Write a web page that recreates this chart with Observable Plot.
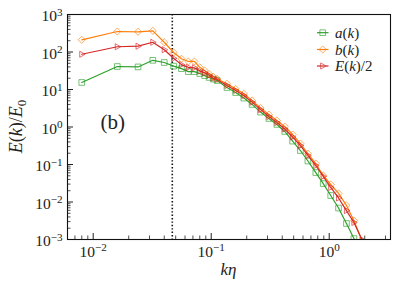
<!DOCTYPE html>
<html><head><meta charset="utf-8">
<script src="https://cdn.jsdelivr.net/npm/d3@7"></script>
<script src="https://cdn.jsdelivr.net/npm/@observablehq/plot@0.6"></script>
<style>html,body{margin:0;padding:0;background:#fff}svg{display:block}</style>
</head><body><div id="chart"></div>
<script>
// ---- data ----
const kEta = [0.008,0.016,0.024,0.032,0.040,0.048,0.056,0.064,0.072,0.080,0.088,0.096,0.104,0.112,
  0.136,0.161,0.189,0.222,0.262,0.308,0.36,0.42,0.49,0.57,0.66,0.77,0.89,1.03,1.2,1.4,1.62,1.9];
const aK = [15.4,41,40,60,52.5,42,36,30,30,26.7,23.5,21,19,17.4,
  11.3,8.3,5.9,4.0,2.5,1.69,1.17,0.76,0.42,0.236,0.124,0.061,0.031,0.0149,0.0069,0.00267,0.00106,0.0004];
const bK = [211,352,346,367,182,97,66,56,56,39,32,26,22,19.3,
  14.2,10.4,7.7,5.1,3.2,2.15,1.49,1.03,0.63,0.363,0.196,0.106,0.051,0.0293,0.0169,0.0081,0.0032,0.0009];
const eHalf = [87,138,143,182,115,68,46,39,38,31,28,24,20,18.5,
  12.8,9.4,6.9,4.6,2.9,1.9,1.32,0.885,0.54,0.321,0.174,0.094,0.048,0.0244,0.0128,0.0059,0.00284,0.00098];
const seriesNames = ["a(k)", "b(k)", "E(k)/2"];
const seriesColors = ["#2ca02c", "#ff7f0e", "#d62728"];
const xTicks = [0.01, 0.1, 1];
const yTicks = [1e-3, 1e-2, 1e-1, 1e0, 1e1, 1e2, 1e3];
const kMarker = 0.0468;
const panelLabel = "(b)";

// ---- layout ----
const W = 399, H = 288, mL = 67, mR = 9, mT = 14, mB = 49;
const xDom = [0.006056, 3.307], yDom = [1e-3, 1e3];
const pxDecX = (W - mL - mR) / (Math.log10(xDom[1]) - Math.log10(xDom[0]));
const pxDecY = (H - mT - mB) / (Math.log10(yDom[1]) - Math.log10(yDom[0]));
const xMinor = [], yMinor = [];
for (let d = -3; d <= 0; d++) for (let m = 2; m <= 9; m++) { const v = m * 10 ** d; if (v > xDom[0] && v < xDom[1]) xMinor.push(v); }
for (let d = -3; d <= 2; d++) for (let m = 2; m <= 9; m++) yMinor.push(m * 10 ** d);
const up = len => yDom[0] * 10 ** (len / pxDecY);
const right = len => xDom[0] * 10 ** (len / pxDecX);

const series = [aK, bK, eHalf].map((vals, i) => kEta.map((k, j) => ({k, v: vals[j], s: seriesNames[i]})));

const triRight = {draw(ctx, size) { const a = Math.sqrt(size) * 0.6; ctx.moveTo(a, 0); ctx.lineTo(-a * 0.6, -a * 0.9); ctx.lineTo(-a * 0.6, a * 0.9); ctx.closePath(); }};
const symbols = ["square", "diamond2", triRight];

const marks = [];
series.forEach((rows, i) => {
  marks.push(Plot.line(rows, {x: "k", y: "v", stroke: seriesColors[i], strokeWidth: 1.2, clip: true}));
  marks.push(Plot.dot(rows, {x: "k", y: "v", stroke: seriesColors[i], symbol: symbols[i], r: 3.2, fill: "none", strokeWidth: 1, strokeOpacity: 0.65, clip: true}));
});

const FONT = "'Liberation Serif', serif";
const chart = Plot.plot({
  width: W, height: H, marginLeft: mL, marginRight: mR, marginTop: mT, marginBottom: mB,
  style: {fontFamily: FONT, background: "#fff", color: "#222"},
  x: {type: "log", domain: xDom},
  y: {type: "log", domain: yDom},
  marks: [
    Plot.ruleX([kMarker], {stroke: "#111", strokeWidth: 1.6, strokeDasharray: "1.4,2"}),
    ...marks,
    Plot.ruleX(xTicks, {x: d => d, y1: yDom[0], y2: up(6), stroke: "#222"}),
    Plot.ruleX(xMinor, {x: d => d, y1: yDom[0], y2: up(3.5), stroke: "#222", strokeWidth: 0.8}),
    Plot.ruleY(yTicks, {y: d => d, x1: xDom[0], x2: right(6), stroke: "#222"}),
    Plot.ruleY(yMinor, {y: d => d, x1: xDom[0], x2: right(3.5), stroke: "#222", strokeWidth: 0.8}),
    Plot.frame({stroke: "#111", strokeWidth: 1.1}),
    Plot.axisX({ticks: xTicks, tickSize: 0, tickPadding: 6, label: null, fontSize: 15.5, tickFormat: d => String(Math.round(Math.log10(d)))}),
    Plot.axisY({ticks: yTicks, tickSize: 0, tickPadding: 5, label: null, fontSize: 15.5, tickFormat: d => String(Math.round(Math.log10(d)))}),
    Plot.text([panelLabel], {text: d => d, frameAnchor: "left", dx: 33, dy: -5, textAnchor: "start", fontSize: 21})
  ]
});
document.getElementById("chart").appendChild(chart);

const ns = "http://www.w3.org/2000/svg";
function tspan(parent, txt, attrs = {}) {
  const t = document.createElementNS(ns, "tspan"); t.textContent = txt;
  for (const [k, v] of Object.entries(attrs)) t.setAttribute(k, v);
  parent.appendChild(t); return t;
}
chart.querySelectorAll('g[aria-label="x-axis tick label"] text, g[aria-label="y-axis tick label"] text').forEach(t => {
  const e = t.textContent.replace("-", "\u2212");
  t.textContent = "";
  tspan(t, "10");
  tspan(t, e, {dy: "-0.5em", "font-size": "0.72em"});
});
chart.querySelectorAll('g[aria-label="y-axis tick label"] text').forEach(t => t.setAttribute("y", "0.45em"));

const svg = d3.select(chart);
// legend
const lg = svg.append("g").attr("font-family", FONT).attr("font-size", 15).attr("text-anchor", "start");
const legendText = [
  [["a", true], ["(", false], ["k", true], [")", false]],
  [["b", true], ["(", false], ["k", true], [")", false]],
  [["E", true], ["(", false], ["k", true], [")/2", false]]
];
const legSym = [d3.symbolSquare, d3.symbolDiamond2, triRight];
[32.7, 49.5, 66].forEach((y, i) => {
  lg.append("line").attr("x1", 317).attr("x2", 328.5).attr("y1", y).attr("y2", y).attr("stroke", seriesColors[i]).attr("stroke-width", 1.2);
  lg.append("path").attr("d", d3.symbol(legSym[i], Math.PI * 3.2 * 3.2)()).attr("transform", `translate(322.7,${y})`)
    .attr("fill", "none").attr("stroke", seriesColors[i]).attr("stroke-opacity", 0.65);
  const t = lg.append("text").attr("x", 335).attr("y", y + 5).node();
  legendText[i].forEach(([s, it]) => tspan(t, s, it ? {"font-style": "italic"} : {}));
});
// x label
svg.append("text").attr("x", (mL + W - mR) / 2).attr("y", 275).attr("text-anchor", "middle")
  .attr("font-family", FONT).attr("font-size", 17).attr("font-style", "italic").text("k\u03b7");
// y label
const yl = svg.append("text").attr("transform", `translate(22,${(mT + H - mB) / 2}) rotate(-90)`).attr("text-anchor", "middle")
  .attr("font-family", FONT).attr("font-size", 18).node();
tspan(yl, "E", {"font-style": "italic"}); tspan(yl, "("); tspan(yl, "k", {"font-style": "italic"}); tspan(yl, ")/");
tspan(yl, "E", {"font-style": "italic"}); tspan(yl, "0", {dy: "0.3em", "font-size": "0.72em"});
</script>
</body></html>
